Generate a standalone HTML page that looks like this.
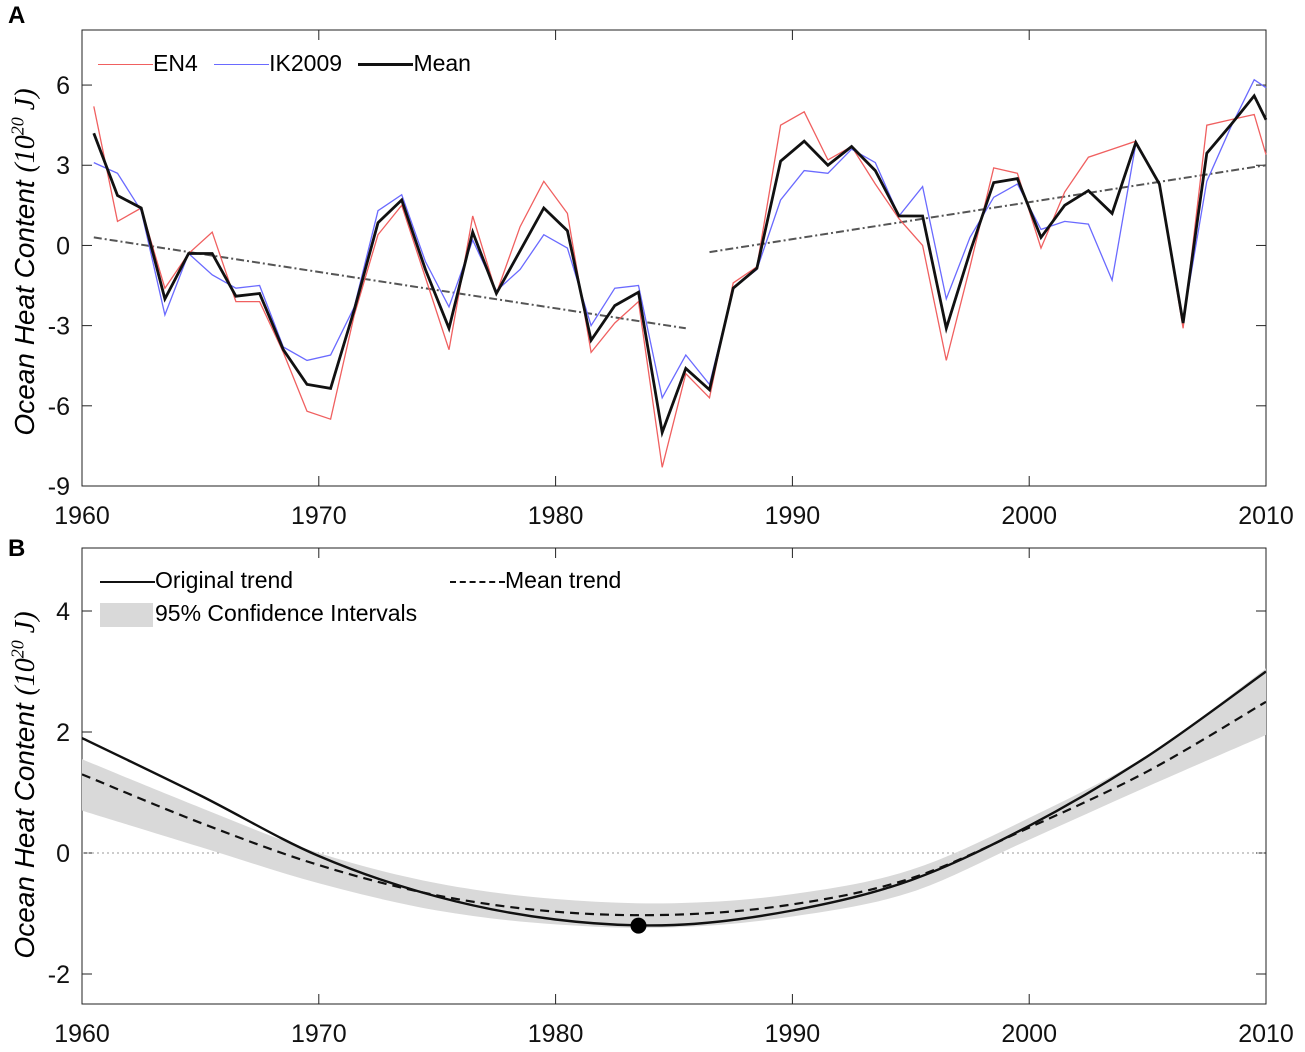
<!DOCTYPE html>
<html><head><meta charset="utf-8"><style>
body{margin:0;background:#fff;}
svg{display:block;font-family:"Liberation Sans",Arial,sans-serif;}
</style></head><body>
<svg id="fig" width="1305" height="1052" viewBox="0 0 1305 1052"></svg>
<script>
// ---------- Panel A data ----------
const yearsA = [1960.5,1961.5,1962.5,1963.5,1964.5,1965.5,1966.5,1967.5,1968.5,1969.5,1970.5,1971.5,1972.5,1973.5,1974.5,1975.5,1976.5,1977.5,1978.5,1979.5,1980.5,1981.5,1982.5,1983.5,1984.5,1985.5,1986.5,1987.5,1988.5,1989.5,1990.5,1991.5,1992.5,1993.5,1994.5,1995.5,1996.5,1997.5,1998.5,1999.5,2000.5,2001.5,2002.5,2003.5,2004.5,2005.5,2006.5,2007.5,2008.5,2009.5,2010];
const en4 = [5.2,0.9,1.4,-1.6,-0.3,0.5,-2.1,-2.1,-4.0,-6.2,-6.5,-2.6,0.4,1.5,-1.2,-3.9,1.1,-1.8,0.7,2.4,1.2,-4.0,-2.9,-2.1,-8.3,-4.8,-5.7,-1.4,-0.8,4.5,5.0,3.2,3.7,2.3,1.0,0.0,-4.3,-0.8,2.9,2.7,-0.1,2.0,3.3,3.6,3.9,2.3,-3.1,4.5,4.7,4.9,3.4];
const ik2009 = [3.1,2.7,1.3,-2.6,-0.3,-1.1,-1.6,-1.5,-3.8,-4.3,-4.1,-2.3,1.3,1.9,-0.6,-2.3,0.2,-1.7,-0.9,0.4,-0.1,-3.0,-1.6,-1.5,-5.7,-4.1,-5.2,-1.6,-0.9,1.7,2.8,2.7,3.6,3.1,1.1,2.2,-2.0,0.3,1.8,2.3,0.6,0.9,0.8,-1.3,3.8,2.3,-2.8,2.4,4.4,6.2,5.9];
const meanA = [4.2,1.87,1.4,-2.0,-0.3,-0.3,-1.9,-1.8,-3.9,-5.2,-5.35,-2.4,0.85,1.7,-0.9,-3.1,0.5,-1.8,-0.2,1.4,0.55,-3.55,-2.25,-1.75,-7.0,-4.6,-5.4,-1.6,-0.85,3.15,3.9,3.0,3.7,2.8,1.1,1.1,-3.1,-0.25,2.35,2.5,0.3,1.5,2.05,1.2,3.85,2.3,-2.9,3.45,4.5,5.6,4.7];
const trend1Years = [1960.5,1985.5];
const trend1Vals = [0.3,-3.1];
const trend2Years = [1986.5,2010];
const trend2Vals = [-0.25,3.0];
const xTicks = [1960,1970,1980,1990,2000,2010];
const yTicksA = [6,3,0,-3,-6,-9];
// ---------- Panel B data ----------
const yearsB = [1960,1965,1970,1975,1980,1985,1990,1995,2000,2005,2010];
const origTrend = [1.9,0.95,-0.05,-0.72,-1.1,-1.19,-0.95,-0.45,0.45,1.6,3.0];
const meanTrend = [1.3,0.5,-0.2,-0.7,-0.97,-1.02,-0.85,-0.42,0.42,1.35,2.5];
const ciUpper = [1.55,0.75,0.0,-0.5,-0.76,-0.83,-0.68,-0.28,0.58,1.62,3.05];
const ciLower = [0.7,0.1,-0.5,-0.95,-1.18,-1.23,-1.05,-0.65,0.22,1.1,1.95];
const minYear = [1983.5];
const minVal = [-1.2];
const yTicksB = [4,2,0,-2];

const NS="http://www.w3.org/2000/svg";
const svg=document.getElementById('fig');
function mk(tag,attrs,parent){const e=document.createElementNS(NS,tag);for(const k in attrs)e.setAttribute(k,attrs[k]);(parent||svg).appendChild(e);return e;}
const L=82,R=1266;
const xs=v=>L+(v-1960)/50*(R-L);
const AT=30,AB=486, yA=v=>AT+(8.06-v)/(8.06+9)*(AB-AT);
const BT=548,BB=1004, yB=v=>853-v*60.5;
function linePath(xa,ya,xf,yf){return xa.map((x,i)=>(i?'L':'M')+xf(x).toFixed(1)+','+yf(ya[i]).toFixed(1)).join('');}
function smoothPath(xa,ya,xf,yf){const p=xa.map((x,i)=>[xf(x),yf(ya[i])]);let d='M'+p[0][0]+','+p[0][1];
 for(let i=0;i<p.length-1;i++){const p0=p[Math.max(0,i-1)],p1=p[i],p2=p[i+1],p3=p[Math.min(p.length-1,i+2)];
 const c1=[p1[0]+(p2[0]-p0[0])/6,p1[1]+(p2[1]-p0[1])/6],c2=[p2[0]-(p3[0]-p1[0])/6,p2[1]-(p3[1]-p1[1])/6];
 d+='C'+c1[0].toFixed(1)+','+c1[1].toFixed(1)+' '+c2[0].toFixed(1)+','+c2[1].toFixed(1)+' '+p2[0].toFixed(1)+','+p2[1].toFixed(1);}return d;}

function axes(top,bot,yTicks,yf,name){
 const g=mk('g',{});
 
 
 mk('rect',{x:L,y:top,width:R-L,height:bot-top,fill:'none',stroke:'#222','stroke-width':1},g);
 xTicks.forEach(t=>{const x=xs(t);
  mk('line',{x1:x,y1:bot,x2:x,y2:bot-10,stroke:'#222'},g);
  mk('line',{x1:x,y1:top,x2:x,y2:top+10,stroke:'#222'},g);
  const tx=mk('text',{x:x,y:bot+38,'font-size':25,'text-anchor':'middle',fill:'#111'},g);tx.textContent=t;
  
  });
 yTicks.forEach(t=>{const y=yf(t);
  mk('line',{x1:L,y1:y,x2:L+10,y2:y,stroke:'#222'},g);
  mk('line',{x1:R,y1:y,x2:R-10,y2:y,stroke:'#222'},g);
  const tx=mk('text',{x:L-12,y:y+9,'font-size':25,'text-anchor':'end',fill:'#111'},g);tx.textContent=t;
  
  });
 return g;}

// Panel A
axes(AT,AB,yTicksA,yA,'panel-a');
let e;
e=mk('path',{d:linePath(trend1Years,trend1Vals,xs,yA),stroke:'#555','stroke-width':2,'stroke-dasharray':'8,3,2,3',fill:'none'});


e=mk('path',{d:linePath(trend2Years,trend2Vals,xs,yA),stroke:'#555','stroke-width':2,'stroke-dasharray':'8,3,2,3',fill:'none'});


e=mk('path',{d:linePath(yearsA,en4,xs,yA),stroke:'#f06060','stroke-width':1.3,fill:'none'});


e=mk('path',{d:linePath(yearsA,ik2009,xs,yA),stroke:'#6a6aff','stroke-width':1.3,fill:'none'});


e=mk('path',{d:linePath(yearsA,meanA,xs,yA),stroke:'#111','stroke-width':2.8,fill:'none'});



// Panel B
axes(BT,BB,yTicksB,yB,'panel-b');
e=mk('line',{x1:L,y1:yB(0),x2:R,y2:yB(0),stroke:'#999','stroke-dasharray':'2,3','stroke-width':1});


const up=smoothPath(yearsB,ciUpper,xs,yB);
const loRev=smoothPath(yearsB.slice().reverse(),ciLower.slice().reverse(),xs,yB).replace(/^M/,'L');
e=mk('path',{d:up+loRev+'Z',fill:'#d9d9d9',stroke:'none'});


e=mk('path',{d:smoothPath(yearsB,meanTrend,xs,yB),stroke:'#111','stroke-width':2.2,'stroke-dasharray':'9,6',fill:'none'});


e=mk('path',{d:smoothPath(yearsB,origTrend,xs,yB),stroke:'#111','stroke-width':2.4,fill:'none'});


e=mk('circle',{cx:xs(minYear[0]),cy:yB(minVal[0]),r:8,fill:'#000'});


</script>
<div style="position:absolute;left:0;top:0;width:1305px;height:1052px;pointer-events:none;font-family:'Liberation Sans',Arial,sans-serif;">
 <div style="position:absolute;left:8px;top:2px;font-size:24px;font-weight:bold;">A</div>
 <div style="position:absolute;left:8px;top:535px;font-size:24px;font-weight:bold;">B</div>
 <div style="position:absolute;left:25px;top:262px;transform:translate(-50%,-50%) rotate(-90deg);white-space:nowrap;font-size:28px;font-style:italic;">Ocean Heat Content <span style="font-family:'Liberation Serif',serif;">(10<sup style="font-size:18px">20</sup> J)</span></div>
 <div style="position:absolute;left:25px;top:785px;transform:translate(-50%,-50%) rotate(-90deg);white-space:nowrap;font-size:28px;font-style:italic;">Ocean Heat Content <span style="font-family:'Liberation Serif',serif;">(10<sup style="font-size:18px">20</sup> J)</span></div>
 <div style="position:absolute;left:98px;top:50px;font-size:23px;white-space:nowrap;">
  <span><span style="display:inline-block;width:55px;border-top:1.5px solid #f06060;vertical-align:middle;"></span>EN4</span>
  <span style="margin-left:10px;"><span style="display:inline-block;width:55px;border-top:1.5px solid #6a6aff;vertical-align:middle;"></span>IK2009</span>
  <span style="margin-left:10px;"><span style="display:inline-block;width:55px;border-top:3px solid #111;vertical-align:middle;"></span>Mean</span>
 </div>
 <div style="position:absolute;left:100px;top:567px;font-size:23px;white-space:nowrap;"><span style="display:inline-block;width:55px;border-top:2.5px solid #111;vertical-align:middle;"></span>Original trend</div>
 <div style="position:absolute;left:450px;top:567px;font-size:23px;white-space:nowrap;"><span style="display:inline-block;width:55px;border-top:2.5px dashed #111;vertical-align:middle;"></span>Mean trend</div>
 <div style="position:absolute;left:100px;top:600px;font-size:23px;white-space:nowrap;"><span style="display:inline-block;width:53px;height:24px;background:#d9d9d9;vertical-align:middle;margin-right:2px;"></span>95% Confidence Intervals</div>
</div>
</body></html>
